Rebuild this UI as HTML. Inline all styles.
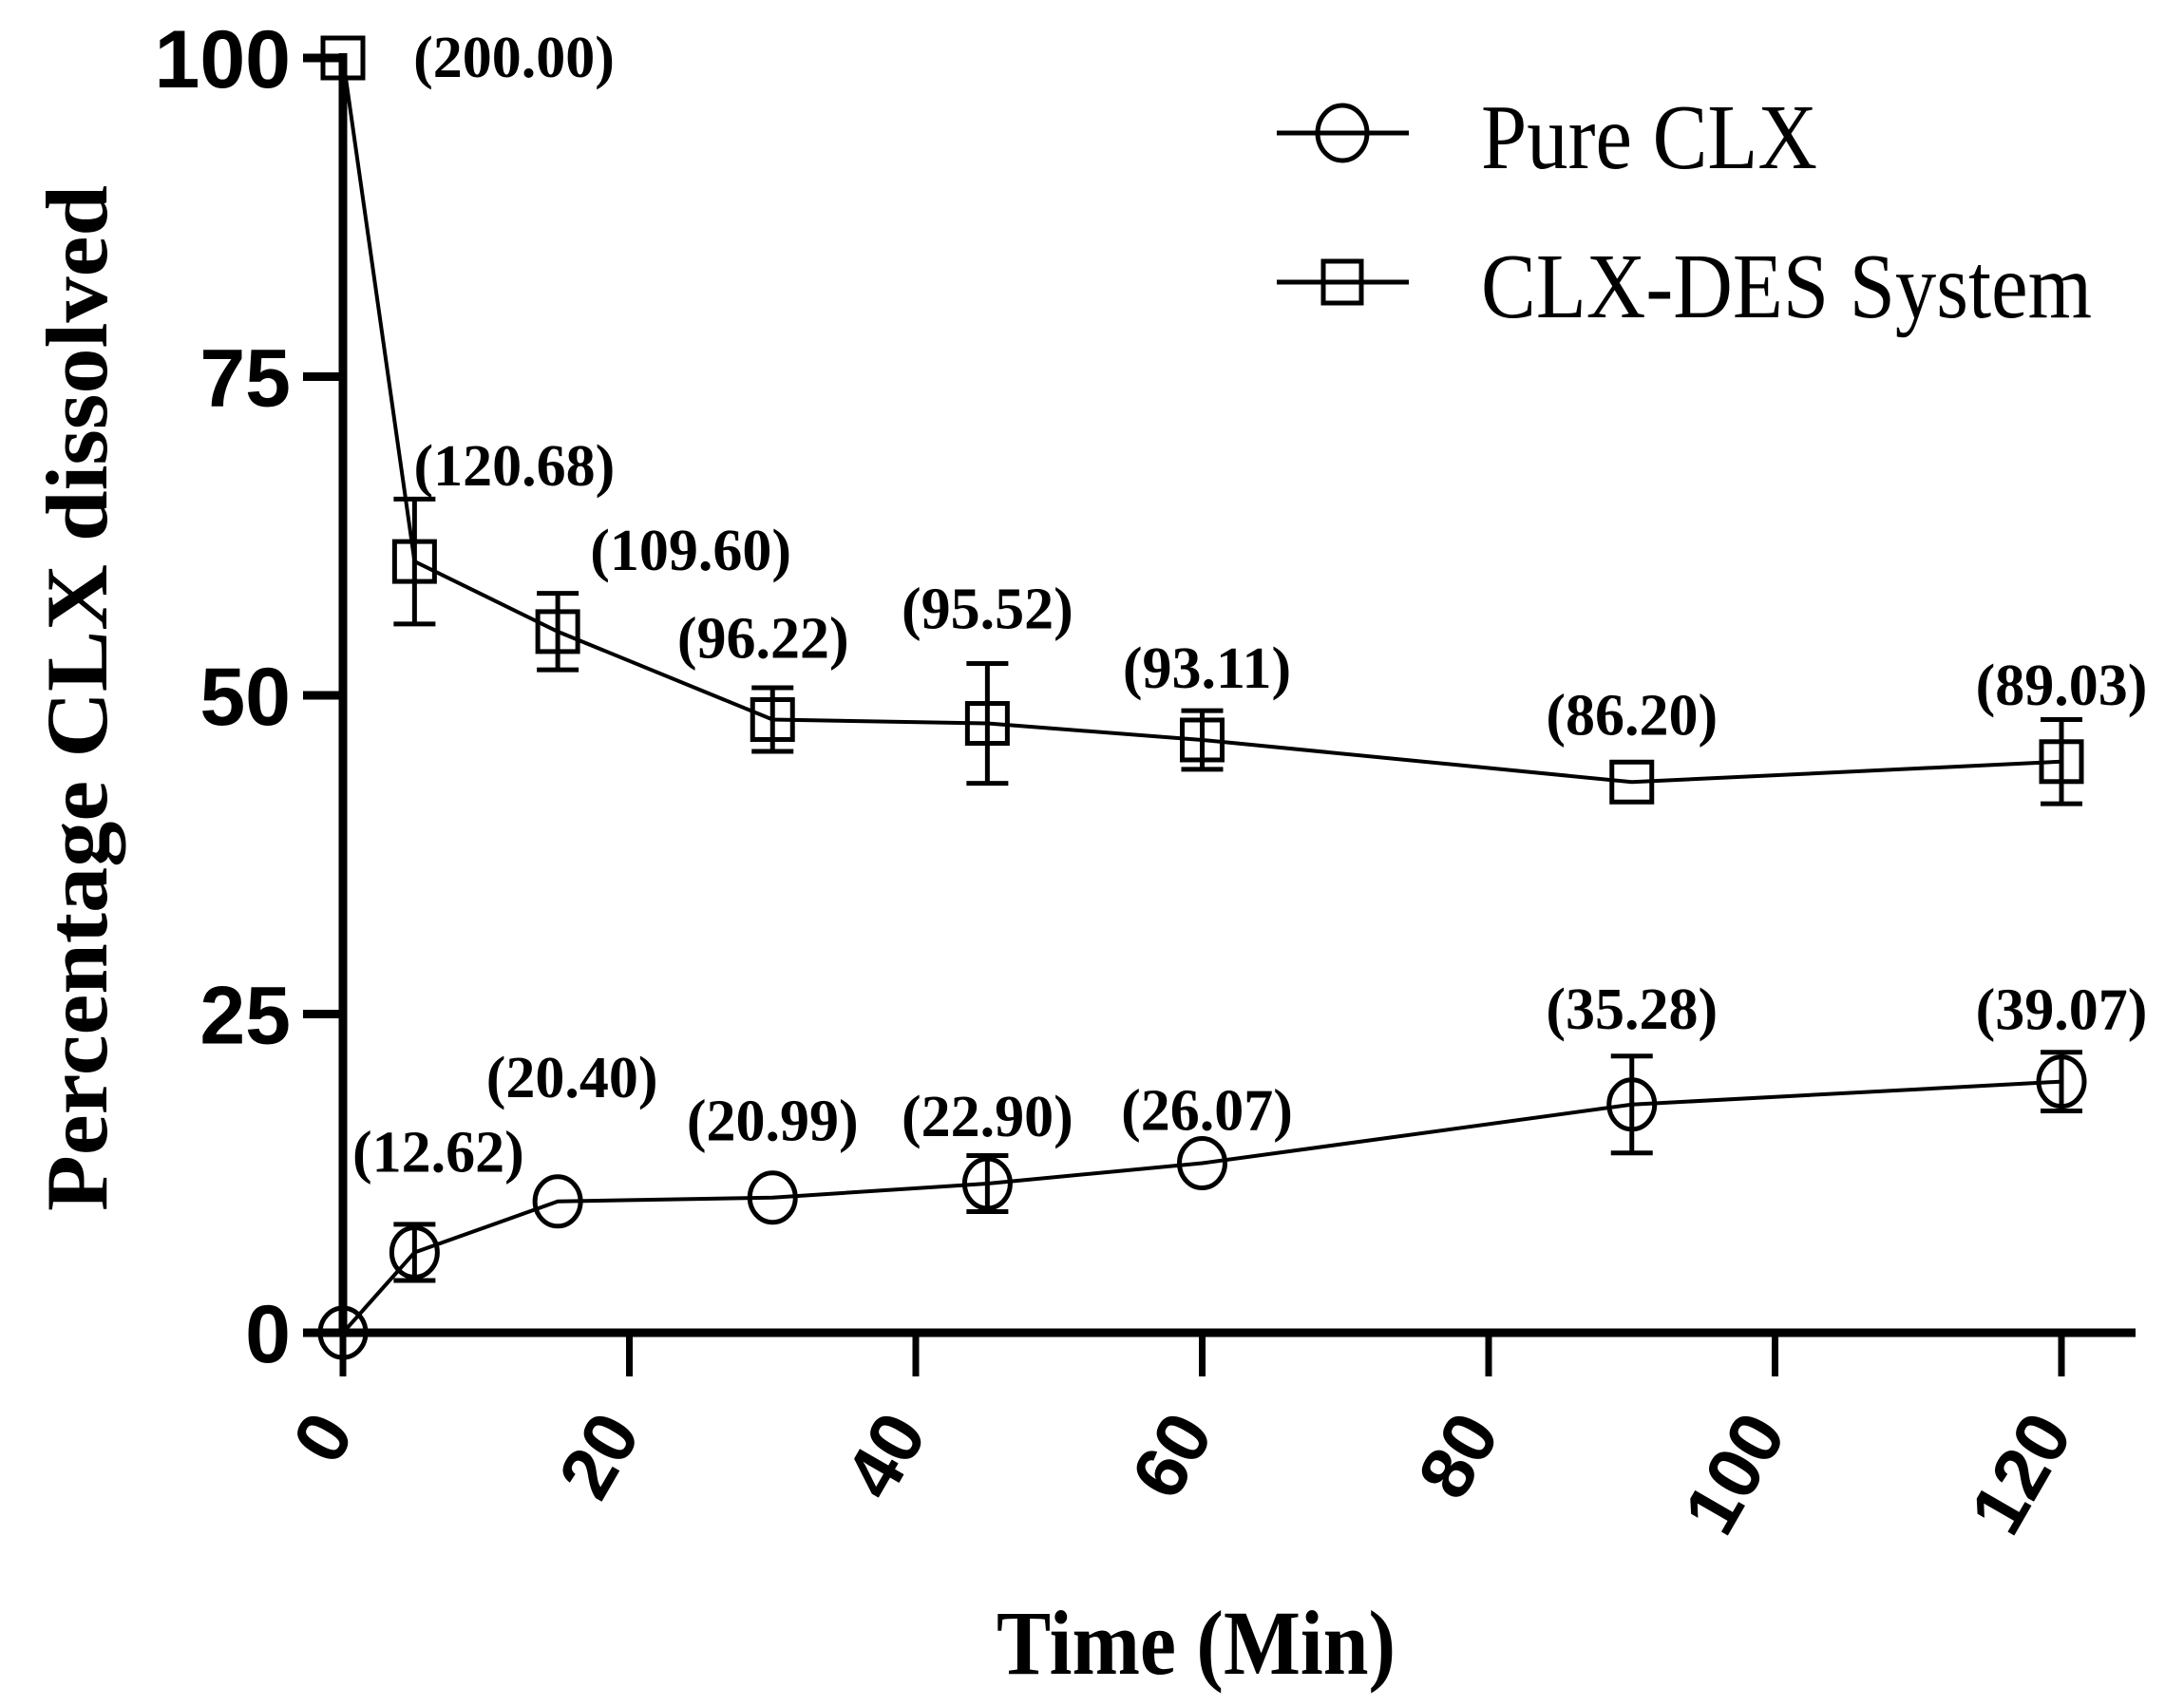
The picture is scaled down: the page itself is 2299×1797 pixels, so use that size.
<!DOCTYPE html>
<html><head><meta charset="utf-8"><style>
html,body{margin:0;padding:0;background:#fff;}
svg{display:block;}
</style></head><body>
<svg id="chart" width="2299" height="1797" viewBox="0 0 2299 1797" xmlns="http://www.w3.org/2000/svg">
<g id="axes"></g>
<g id="series"></g>
<g id="legend"></g>
</svg>
<script>
const times = [0, 5, 15, 30, 45, 60, 90, 120];
const pureValues = [0, 6.3, 10.3, 10.6, 11.7, 13.3, 17.9, 19.7];
const pureErrors = [0, 2.2, 0, 0, 2.2, 0, 3.8, 2.3];
const pureLabels = ["", "(12.62)", "(20.40)", "(20.99)", "(22.90)", "(26.07)", "(35.28)", "(39.07)"];
const desValues = [100, 60.5, 55.0, 48.1, 47.8, 46.5, 43.2, 44.8];
const desErrors = [0, 4.9, 3.0, 2.5, 4.7, 2.3, 0, 3.3];
const desLabels = ["(200.00)", "(120.68)", "(109.60)", "(96.22)", "(95.52)", "(93.11)", "(86.20)", "(89.03)"];
const yTicks = [0, 25, 50, 75, 100];
const xTicks = [0, 20, 40, 60, 80, 100, 120];

// label offsets (pixels, style only)
const pureLabelDx = [0, 25, 15, 0, 0, 5, 0, 0];
const pureLabelDy = [0, -105, -130, -80, -70, -55, -100, -75];
const desLabelDx = [180, 105, 140, -10, 0, 5, 0, 0];
const desLabelDy = [0, -100, -85, -85, -120, -75, -70, -80];

const NS = "http://www.w3.org/2000/svg";
const X0 = 361, X1 = 2170, Y0 = 1403, Y1 = 61;
function xs(v){ return X0 + (v/120)*(X1-X0); }
function ys(v){ return Y0 - (v/100)*(Y0-Y1); }
function mk(tag, attrs, parent){
  const e = document.createElementNS(NS, tag);
  for (const k in attrs) e.setAttribute(k, attrs[k]);
  parent.appendChild(e);
  return e;
}
const axes = document.getElementById('axes');
const series = document.getElementById('series');
const legend = document.getElementById('legend');

let yl = mk('line', {x1:X0, y1:Y1-5, x2:X0, y2:Y0+4, stroke:'#000','stroke-width':9}, axes);


let xl = mk('line', {x1:X0-4, y1:Y0, x2:2248, y2:Y0, stroke:'#000','stroke-width':9}, axes);



yTicks.forEach(function(t){
  const y = ys(t);
  const tk = mk('line', {x1:319, y1:y, x2:X0, y2:y, stroke:'#000','stroke-width':9}, axes);
  
  
  const tx = mk('text', {x:306, y:y+31, 'text-anchor':'end','font-family':'Liberation Sans, sans-serif','font-weight':'bold','font-size':86}, axes);
  tx.textContent = String(t);
  
  
});
xTicks.forEach(function(t){
  const x = xs(t);
  const tk = mk('line', {x1:x, y1:Y0, x2:x, y2:1449, stroke:'#000','stroke-width':7}, axes);
  
  
  const tx = mk('text', {x:0, y:0, 'text-anchor':'end','font-family':'Liberation Sans, sans-serif','font-weight':'bold','font-size':78,
    transform:'translate('+(x+13)+',1508) rotate(-60)'}, axes);
  tx.textContent = String(t);
  
  
});
let yt = mk('text', {x:0, y:0, 'text-anchor':'middle','font-family':'Liberation Serif, serif','font-weight':'bold','font-size':92,
  transform:'translate(112,735) rotate(-90)', textLength:1080, lengthAdjust:'spacingAndGlyphs'}, axes);
yt.textContent = 'Percentage CLX dissolved';


let xt = mk('text', {x:1259, y:1762, 'text-anchor':'middle','font-family':'Liberation Serif, serif','font-weight':'bold','font-size':96,
  textLength:420, lengthAdjust:'spacingAndGlyphs'}, axes);
xt.textContent = 'Time (Min)';



function drawSeries(vals, errs, labels, dxs, dys, shape, name){
  const g = mk('g', {}, series);
  
  
  const pts = times.map(function(t,i){ return xs(t)+','+ys(vals[i]); }).join(' ');
  const pl = mk('polyline', {points:pts, fill:'none', stroke:'#000','stroke-width':4}, g);
  
  
  times.forEach(function(t,i){
    const x = xs(t), y = ys(vals[i]);
    if (errs[i] > 0) {
      const yt = ys(vals[i]+errs[i]), yb = ys(vals[i]-errs[i]);
      const eb = mk('path', {d:'M'+x+','+yt+'V'+yb+'M'+(x-22)+','+yt+'H'+(x+22)+'M'+(x-22)+','+yb+'H'+(x+22), stroke:'#000','stroke-width':5, fill:'none'}, g);
      
      
    }
    let m;
    if (shape === 'circle') m = mk('ellipse', {cx:x, cy:y, rx:24, ry:26, fill:'none', stroke:'#000','stroke-width':5}, g);
    else m = mk('rect', {x:x-21, y:y-21, width:42, height:42, fill:'none', stroke:'#000','stroke-width':5}, g);
    
    
    if (labels[i]) {
      const tx = mk('text', {x:x+dxs[i], y:y+dys[i]+20, 'text-anchor':'middle','font-family':'Liberation Serif, serif','font-weight':'bold','font-size':62}, g);
      tx.textContent = labels[i];
      
      
    }
  });
}
drawSeries(desValues, desErrors, desLabels, desLabelDx, desLabelDy, 'square', 'clx-des');
drawSeries(pureValues, pureErrors, pureLabels, pureLabelDx, pureLabelDy, 'circle', 'pure-clx');

function legendEntry(y, shape, label, len, name){
  const g = mk('g', {}, legend);
  
  
  mk('line', {x1:1344, y1:y, x2:1483, y2:y, stroke:'#000','stroke-width':5}, g);
  if (shape === 'circle') mk('ellipse', {cx:1413, cy:y, rx:26, ry:29, fill:'none', stroke:'#000','stroke-width':5}, g);
  else mk('rect', {x:1393, y:y-22, width:40, height:44, fill:'none', stroke:'#000','stroke-width':5}, g);
  const tx = mk('text', {x:1559, y:y+37, 'font-family':'Liberation Serif, serif','font-size':97, textLength:len, lengthAdjust:'spacingAndGlyphs'}, g);
  tx.textContent = label;
  
  
}
legendEntry(140, 'circle', 'Pure CLX', 354, 'pure-clx');
legendEntry(297, 'square', 'CLX-DES System', 643, 'clx-des');
</script>
</body></html>
